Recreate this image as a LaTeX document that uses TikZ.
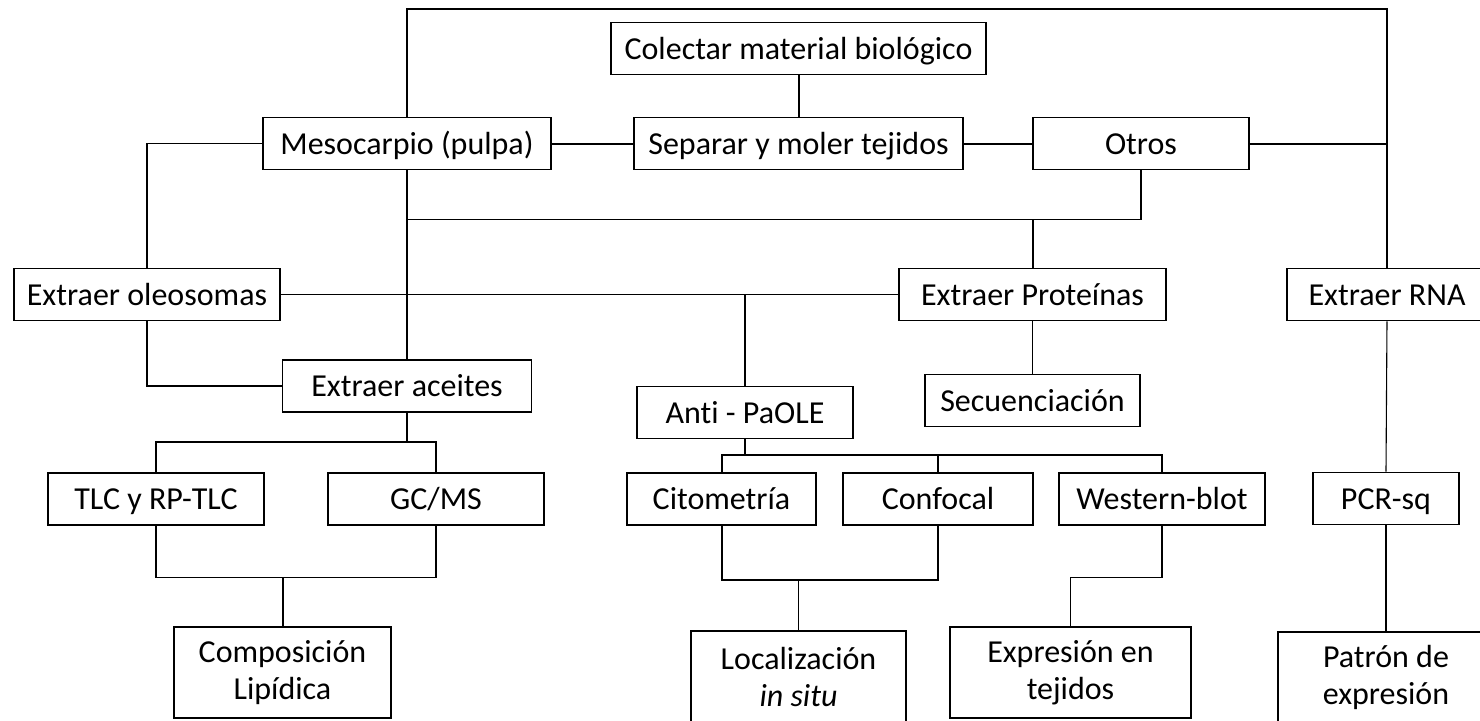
\documentclass[tikz,border=0pt]{standalone}
\usepackage{fontspec}
\setmainfont{Carlito}[Ligatures={NoCommon}]

\begin{document}
\begin{tikzpicture}[x=0.5pt,y=-0.5pt]
\tikzset{
    box/.style={draw, line width=0.8pt, inner sep=0pt, minimum height=26pt,
        text height=14pt, text depth=3.5pt, font=\fontsize{16}{18.5}\selectfont},
    tallbox/.style={draw, line width=0.8pt, inner sep=0pt, minimum height=45.5pt,
        align=center, font=\fontsize{16}{18.5}\selectfont},
    wire/.style={line width=0.55pt},
    heavywire/.style={line width=1pt}
}
\useasboundingbox (0,0) rectangle (1480,720);
% Boxes
\node[box, minimum width=187.5pt] (colectar) at (798.5,48.5){Colectar material biológico};
\node[box, minimum width=144pt] (meso) at (407,143.5){Mesocarpio (pulpa)};
\node[box, minimum width=164.5pt] (separar) at (798.5,143.5){Separar y moler tejidos};
\node[box, minimum width=108pt] (otros) at (1141,143.5){Otros};
\node[box, minimum width=133pt] (oleo) at (147,294.5){Extraer oleosomas};
\node[box, minimum width=133.5pt] (prot) at (1032.5,294.5){Extraer Proteínas};
\node[box, minimum width=100pt] (rna) at (1387,294.5){Extraer RNA};
\node[box, minimum width=124.5pt] (aceites) at (407,386){Extraer aceites};
\node[box, minimum width=108pt] (anti) at (745,412.5){Anti - PaOLE};
\node[box, minimum width=107.5pt] (secu) at (1032.5,400.5){Secuenciación};
\node[box, minimum width=108pt] (tlc) at (156,499){TLC y RP-TLC};
\node[box, minimum width=108pt] (gcms) at (436,499){GC/MS};
\node[box, minimum width=94.5pt] (cito) at (721.5,499){Citometría};
\node[box, minimum width=95pt] (confocal) at (938,499){Confocal};
\node[box, minimum width=103pt] (western) at (1162,499){Western-blot};
\node[box, minimum width=73pt] (pcr) at (1386,498.5){PCR-sq};
\node[tallbox, minimum width=108.5pt] (compo) at (282.5,672.5){Composición\\Lipídica};
\node[tallbox, minimum width=107.5pt] (local) at (798.5,676.5){Localización\\\textit{in situ}};
\node[tallbox, minimum width=120.5pt] (expre) at (1070.5,672.5){Expresión en\\tejidos};
\node[tallbox, minimum width=108pt] (patron) at (1386,677.5){Patrón de\\expresión};

% Top part
\draw[heavywire] (colectar.south) -- (separar.north);
\draw[heavywire] (meso.east) -- (separar.west);
\draw[heavywire] (separar.east) -- (otros.west);
\draw[heavywire] (otros.east) -- (otros.east -| rna.north);
\draw[heavywire] (meso.north) -- ++(0,-108) -| (rna.north);
\draw[wire] (meso.west) -| (oleo.north);
\draw[wire] (meso.south) -- (aceites.north);
\draw[wire] (otros.south) -- ++(0,49) coordinate (split) -| (meso.south);
\draw[heavywire] (prot.north) -- (prot.north |- split);

% Oleosomas and proteins
\draw[wire] (oleo.east) -- (prot.west);
\draw[heavywire] (anti.north) -- (anti.north |- oleo.east);
\draw[wire] (oleo.south) |- (aceites.west);
\draw[wire] (prot.south) -- (secu.north);

% Lipids
\draw[heavywire] (tlc.north) -- ++(0,-30) coordinate (tlcbar) -| (gcms.north);
\draw[wire] (aceites.south) -- (aceites.south |- tlcbar);
\draw[wire] (tlc.south) -- ++(0,52) coordinate (lipbar) -| (gcms.south);
\draw[heavywire] (compo.north) -- (compo.north |- lipbar);

% Immunodetection
\draw[heavywire] (cito.north) -- ++(0,-17) coordinate (antibar) -| (western.north);
\draw[heavywire] (anti.south) -- (anti.south |- antibar);
\draw[heavywire] (confocal.north) -- (confocal.north |- antibar);
\draw[heavywire] (cito.south) -- ++(0,54) coordinate (locbar) -| (confocal.south);
\draw[wire] (local.north) -- (local.north |- locbar);
\draw[wire] (western.south) -- ++(0,52) -| (expre.north);

% RNA
\draw[wire] (rna.south) -- (pcr.north);
\draw[heavywire] (pcr.south) -- (patron.north);
\end{tikzpicture}
\end{document}
